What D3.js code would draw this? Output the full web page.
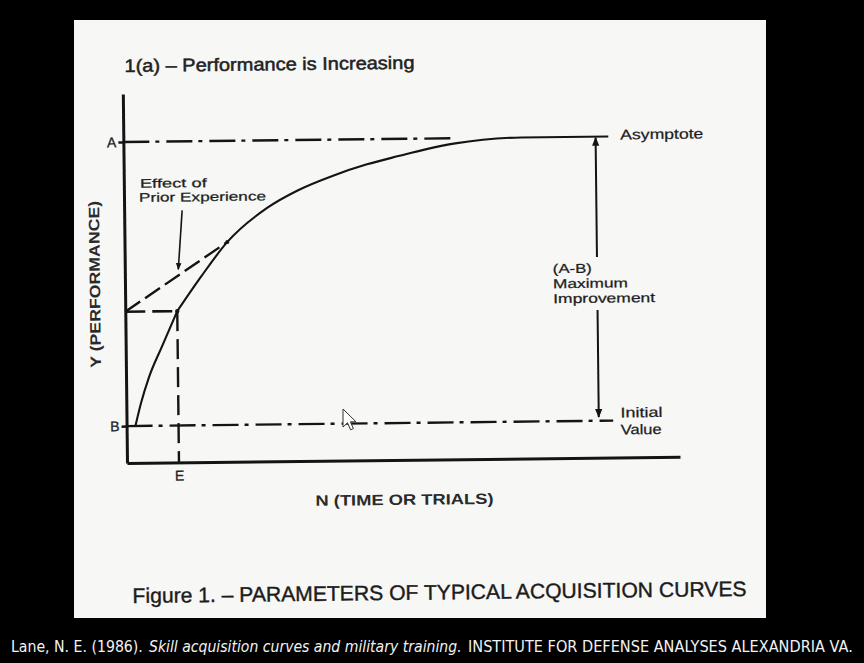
<!DOCTYPE html>
<html>
<head>
<meta charset="utf-8">
<script src="https://cdn.jsdelivr.net/npm/d3@7"></script>
<style>
  html, body { margin: 0; padding: 0; background: #000; }
  svg { display: block; }
</style>
</head>
<body>
<svg id="chart" width="864" height="663"></svg>
<script>
// ---- data ----
// lower part of the curve: from B (no prior experience) up to E
const lowerN    = [1.6, 2.66, 4.16, 6.51, 9.4];
const lowerPerf = [10, 16.2, 23.2, 31.3, 41.0];
// upper part of the curve: from E up to the asymptote
const upperN    = [9.4, 13.74, 18.6, 25.86, 31.5, 37.97, 44, 49.9, 55, 60, 65, 72, 87.7];
const upperPerf = [41.0, 50.2, 59.6, 68.7, 73.4, 77.3, 80.2, 82.4, 84.2, 85.6, 86.5, 87.0, 87.0];
const asymptoteA = 87;      // A
const initialB = 10;        // B
const priorLevel = 41;      // level reached with prior experience
const pointE = 9.4;         // E
const tangentN = 18.6, tangentPerf = 59.6;
const asymptoteDashEnd = 60;
const lineEnd = 88;
const arrowN = 85.4;
const arrowGapTop = 54.4, arrowGapBottom = 40.0, arrowBottomTip = 11.0;
const yTickValues = [asymptoteA, initialB];
const yTickLabels = ["A", "B"];
const xTickValues = [pointE];
const xTickLabels = ["E"];

const svg = d3.select("#chart");
const ink = "#141414";
const fig = "Liberation Sans, Arial, sans-serif";

// paper
svg.append("rect").attr("x", 74).attr("y", 20).attr("width", 692).attr("height", 598).attr("fill", "#f7f7f5");

const ox = 127, oy = 463;
const x = d3.scaleLinear().domain([0, 100]).range([ox, 680]);
const y = d3.scaleLinear().domain([0, 100]).range([oy, 94]);

const g = svg.append("g").attr("transform", `rotate(-0.65, ${ox}, ${oy})`);

const defs = svg.append("defs");
defs.append("marker").attr("id", "ah").attr("viewBox", "0 0 10 10").attr("refX", 9).attr("refY", 5)
  .attr("markerWidth", 9).attr("markerHeight", 9).attr("markerUnits", "userSpaceOnUse").attr("orient", "auto")
  .append("path").attr("d", "M0,1 L10,5 L0,9 Z").attr("fill", ink);
defs.append("marker").attr("id", "ahs").attr("viewBox", "0 0 10 10").attr("refX", 9).attr("refY", 5)
  .attr("markerWidth", 7).attr("markerHeight", 7).attr("markerUnits", "userSpaceOnUse").attr("orient", "auto")
  .append("path").attr("d", "M0,1 L10,5 L0,9 Z").attr("fill", ink);

// axes
const yAxis = d3.axisLeft(y).tickValues(yTickValues).tickFormat((d, i) => yTickLabels[i]).tickSize(5).tickSizeOuter(0).tickPadding(2);
const xAxis = d3.axisBottom(x).tickValues(xTickValues).tickFormat((d, i) => xTickLabels[i]).tickSize(0).tickSizeOuter(0).tickPadding(8);

const ya = g.append("g").attr("transform", `translate(${ox},0)`).call(yAxis);
const xa = g.append("g").attr("transform", `translate(0,${oy})`).call(xAxis);
[ya, xa].forEach(a => {
  a.select(".domain").attr("stroke", ink).attr("stroke-width", 3);
  a.selectAll(".tick line").attr("stroke", ink).attr("stroke-width", 2.5);
  a.selectAll(".tick text").attr("fill", "#222").attr("font-family", fig).attr("font-size", 14)
    .attr("stroke", "#222").attr("stroke-width", 0.3);
});

// reference lines
const dashDot = "26,6,4,7";
g.append("line").attr("x1", x(0)).attr("x2", x(asymptoteDashEnd)).attr("y1", y(asymptoteA)).attr("y2", y(asymptoteA))
  .attr("stroke", ink).attr("stroke-width", 2.4).attr("stroke-dasharray", dashDot);
g.append("line").attr("x1", x(0)).attr("x2", x(lineEnd)).attr("y1", y(initialB)).attr("y2", y(initialB))
  .attr("stroke", ink).attr("stroke-width", 2.4).attr("stroke-dasharray", dashDot);

// prior experience dashed lines
g.append("line").attr("x1", x(0)).attr("x2", x(tangentN)).attr("y1", y(priorLevel)).attr("y2", y(tangentPerf))
  .attr("stroke", ink).attr("stroke-width", 2.4).attr("stroke-dasharray", "18,6");
g.append("line").attr("x1", x(0)).attr("x2", x(pointE)).attr("y1", y(priorLevel)).attr("y2", y(priorLevel))
  .attr("stroke", ink).attr("stroke-width", 2.6).attr("stroke-dasharray", "20,7");
g.append("line").attr("x1", x(pointE)).attr("x2", x(pointE)).attr("y1", y(priorLevel)).attr("y2", y(0))
  .attr("stroke", ink).attr("stroke-width", 2.4).attr("stroke-dasharray", "20,8");

// acquisition curve (two smooth pieces joined at E)
const line = d3.line().x(d => x(d[0])).y(d => y(d[1])).curve(d3.curveMonotoneX);
[[lowerN, lowerPerf], [upperN, upperPerf]].forEach(([ns, ps]) => {
  g.append("path").datum(ns.map((n, i) => [n, ps[i]]))
    .attr("d", line).attr("fill", "none").attr("stroke", ink).attr("stroke-width", 2.1);
});

// dots at junctions
g.append("circle").attr("cx", x(pointE)).attr("cy", y(priorLevel)).attr("r", 2.2).attr("fill", ink);
g.append("circle").attr("cx", x(tangentN)).attr("cy", y(tangentPerf)).attr("r", 2).attr("fill", ink);

// maximum improvement double arrow
g.append("line").attr("x1", x(arrowN)).attr("x2", x(arrowN)).attr("y1", y(arrowGapTop)).attr("y2", y(asymptoteA) + 1)
  .attr("stroke", ink).attr("stroke-width", 2).attr("marker-end", "url(#ah)");
g.append("line").attr("x1", x(arrowN)).attr("x2", x(arrowN)).attr("y1", y(arrowGapBottom)).attr("y2", y(arrowBottomTip))
  .attr("stroke", ink).attr("stroke-width", 2).attr("marker-end", "url(#ah)");

// text labels
function label(txt, tx, ty, size, len, opts = {}) {
  const t = g.append("text").attr("x", tx).attr("y", ty).text(txt)
    .attr("font-family", opts.family || fig).attr("font-size", size)
    .attr("font-weight", opts.weight || "normal").attr("fill", opts.fill || "#1e1e1e")
    .attr("stroke", opts.fill || "#1e1e1e").attr("stroke-width", opts.sw == null ? 0.25 : opts.sw);
  if (len) t.attr("textLength", len).attr("lengthAdjust", "spacingAndGlyphs");
  if (opts.anchor) t.attr("text-anchor", opts.anchor);
  if (opts.rotate) t.attr("transform", `rotate(${opts.rotate}, ${tx}, ${ty})`);
  return t;
}
label("1(a) \u2013 Performance is Increasing", 129, 72, 18, 290, {fill: "#222", sw: 0.5});
label("Effect of", 143, 188, 12.5, 67);
label("Prior Experience", 142, 202, 12.5, 127);
label("Asymptote", 624, 145, 14, 83);
label("(A-B)", 555, 278, 13, 39);
label("Maximum", 555, 293, 13, 75);
label("Improvement", 555, 308, 13, 102);
label("Initial", 621, 423, 14, 42);
label("Value", 621, 440, 14, 41);
label("Y (PERFORMANCE)", 102, 284, 15, 167, {anchor: "middle", rotate: -90, weight: "bold", fill: "#2a2a2a", sw: 0});
label("N (TIME OR TRIALS)", 404, 508, 15, 178, {anchor: "middle", weight: "bold", fill: "#2a2a2a", sw: 0});

// prior experience pointer
g.append("line").attr("x1", 185).attr("y1", 211).attr("x2", 180.5).attr("y2", 270)
  .attr("stroke", ink).attr("stroke-width", 1.6).attr("marker-end", "url(#ahs)");

// caption
label("Figure 1. \u2013 PARAMETERS OF TYPICAL ACQUISITION CURVES", 438, 603, 21, 614,
  {anchor: "middle", fill: "#1c1c1c", sw: 0.4});

// mouse cursor in the screenshot
svg.append("path")
  .attr("d", "M0,0 L0,18 L4.5,13.8 L7.6,20.8 L10.4,19.6 L7.4,12.8 L13,12.8 Z")
  .attr("transform", "translate(343,409)")
  .attr("fill", "#fff").attr("stroke", "#333").attr("stroke-width", 1);

// citation (on black) - horizontally condensed with a scale transform so its box stays inside the page
const cite = svg.append("g").attr("fill", "#f2f2f2").attr("font-family", "DejaVu Sans, Liberation Sans, sans-serif").attr("font-size", 15);
function citePart(txt, left, width, italic) {
  const t = cite.append("text").attr("x", 0).attr("y", 0).text(txt);
  if (italic) t.attr("font-style", "italic");
  const natural = t.node().getComputedTextLength();
  t.attr("transform", `translate(${left},652) scale(${width / natural},1)`);
}
citePart("Lane, N. E. (1986).", 11, 132, false);
citePart("Skill acquisition curves and military training.", 149, 313, true);
citePart("INSTITUTE FOR DEFENSE ANALYSES ALEXANDRIA VA.", 468, 385, false);
</script>
</body>
</html>
